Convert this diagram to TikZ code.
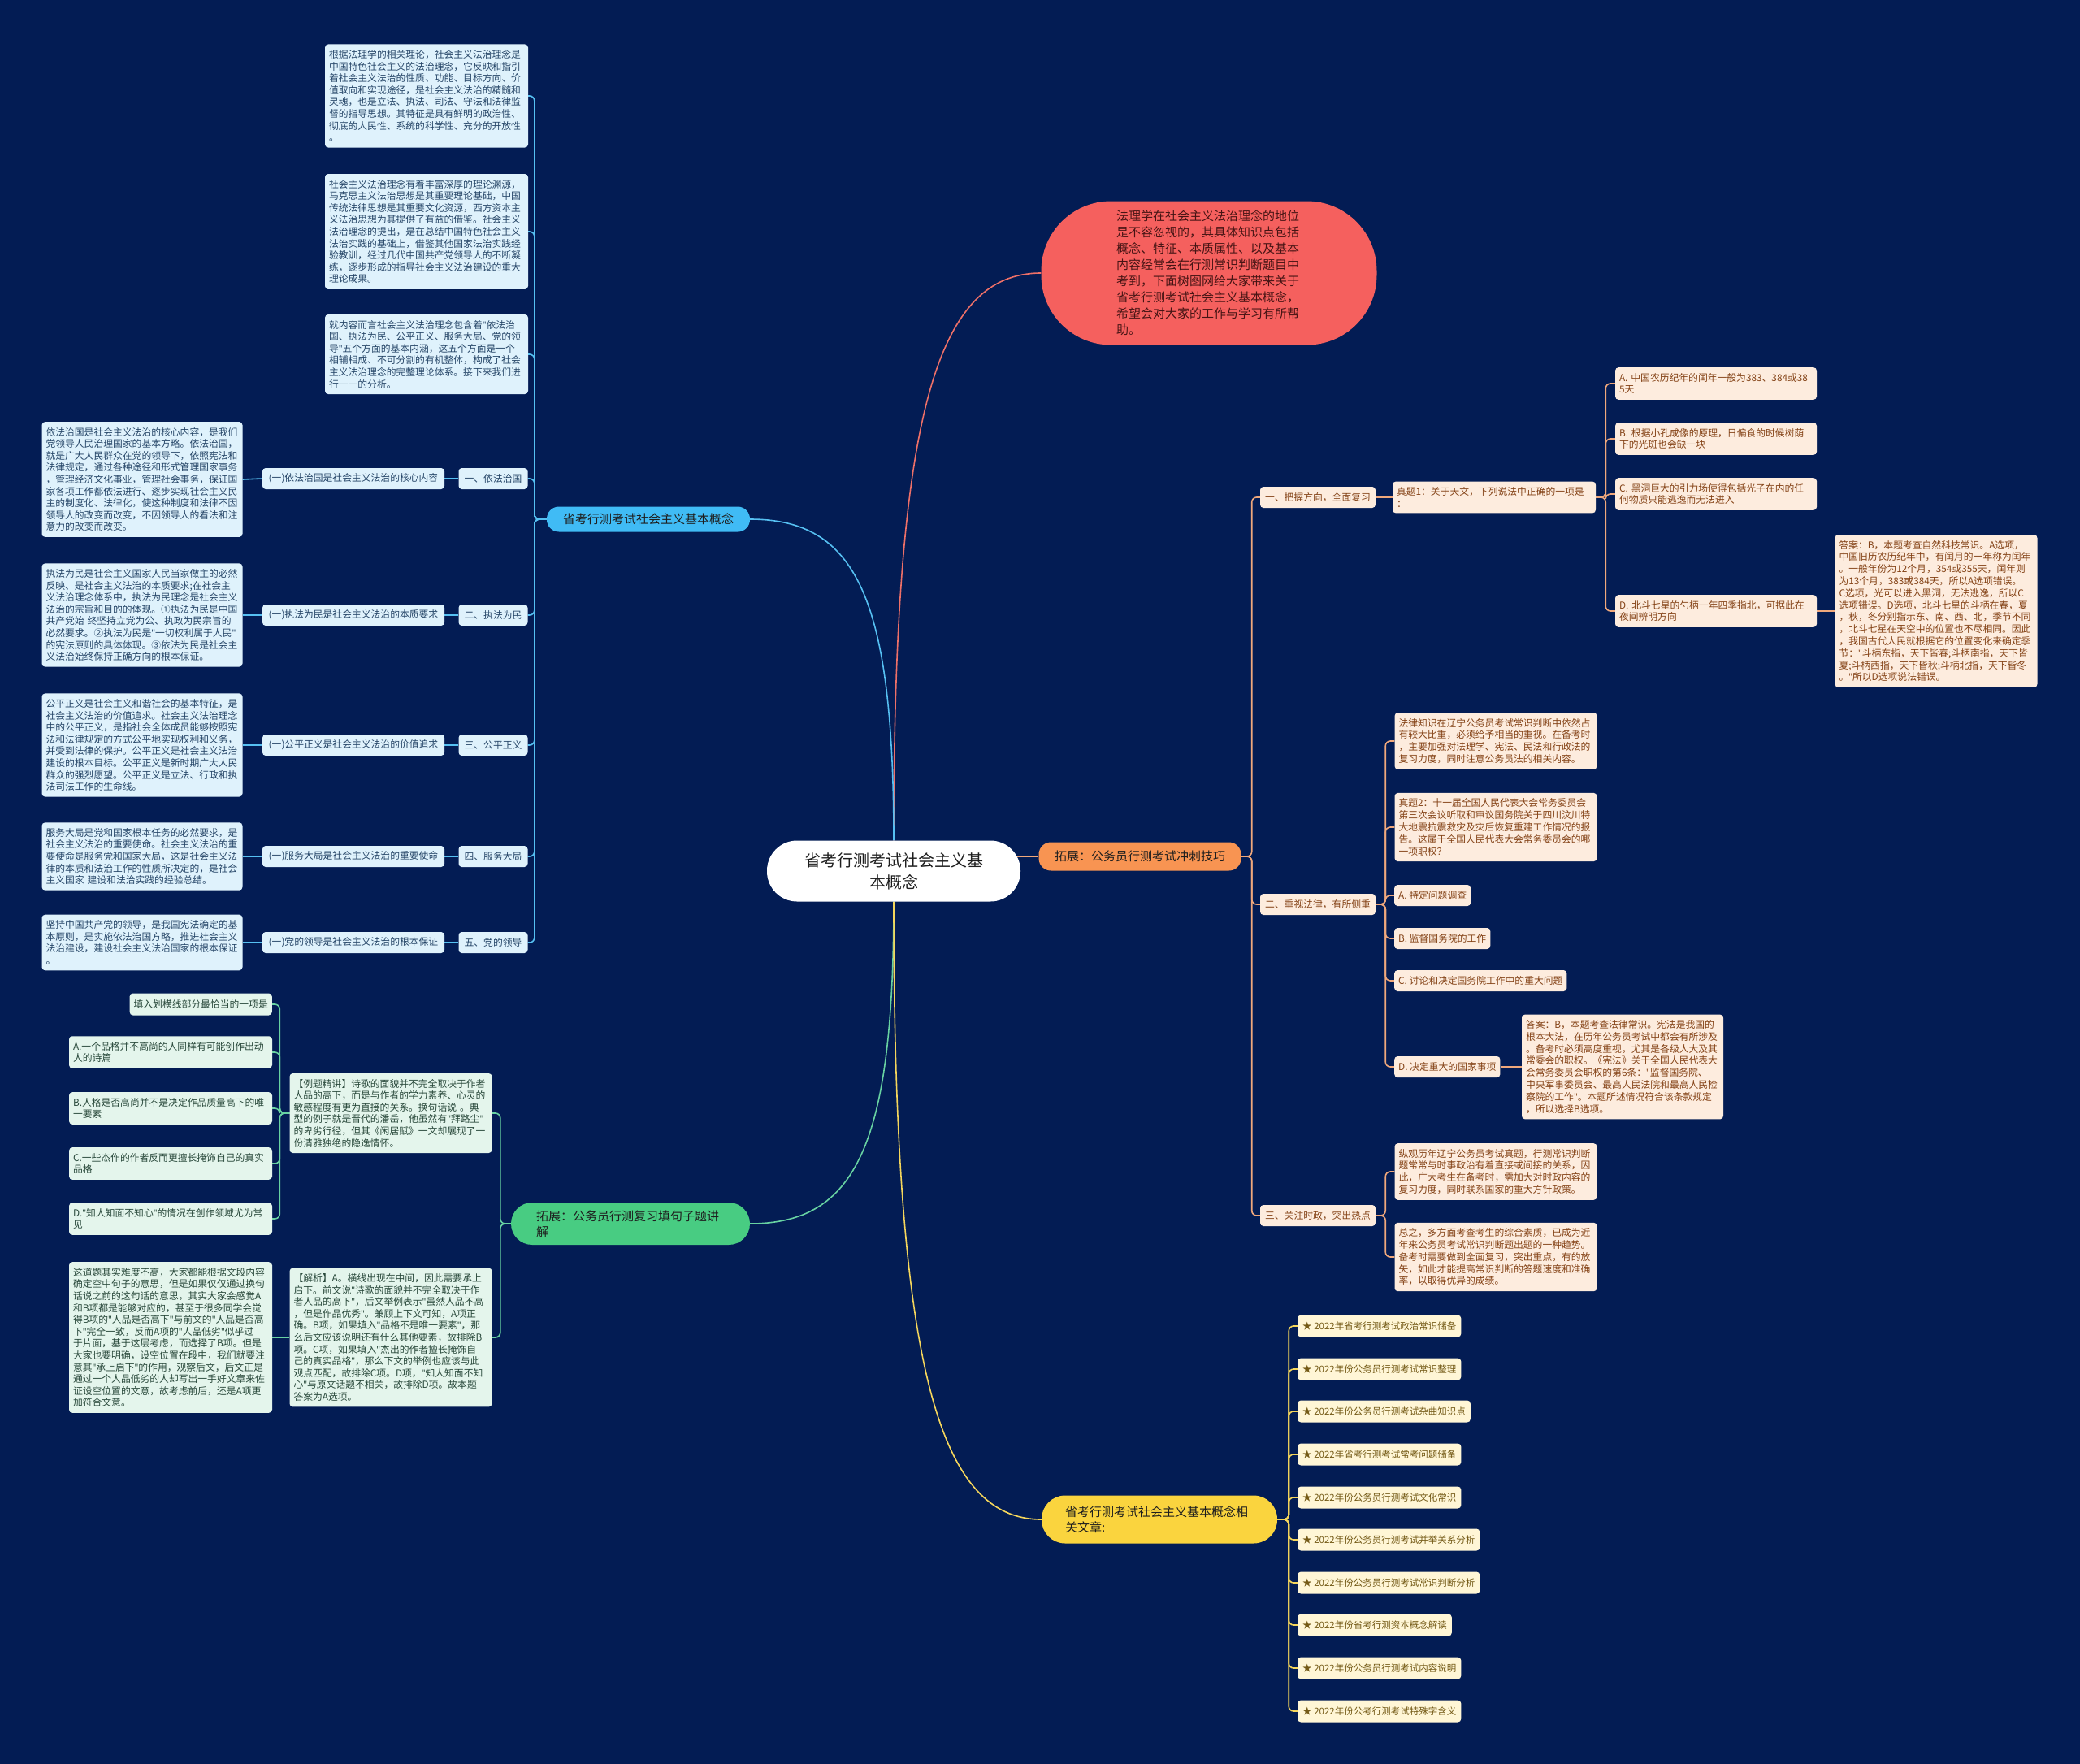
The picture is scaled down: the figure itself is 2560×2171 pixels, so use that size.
\documentclass[tikz,border=0pt]{standalone}
\usepackage{fontspec}
\setmainfont{Noto Sans CJK SC}
\newfontfamily\quotefont{Noto Sans}
\newcommand{\qm}{{\quotefont"}}
\usepackage{tikz}
\usetikzlibrary{backgrounds}
\definecolor{pageNavy}{RGB}{3,28,84}
\definecolor{rootText}{RGB}{30,30,30}
\definecolor{introFill}{RGB}{245,96,94}
\definecolor{introText}{RGB}{70,20,20}
\definecolor{introLine}{RGB}{238,112,104}
\definecolor{lawMain}{RGB}{64,187,245}
\definecolor{lawFill}{RGB}{223,242,252}
\definecolor{lawText}{RGB}{38,70,104}
\definecolor{lawLine}{RGB}{86,192,242}
\definecolor{sprintMain}{RGB}{248,148,82}
\definecolor{sprintFill}{RGB}{253,236,222}
\definecolor{sprintText}{RGB}{132,66,22}
\definecolor{sprintLine}{RGB}{240,168,124}
\definecolor{fillMain}{RGB}{72,204,130}
\definecolor{fillFill}{RGB}{228,245,236}
\definecolor{fillText}{RGB}{40,72,58}
\definecolor{fillLine}{RGB}{104,210,162}
\definecolor{linkMain}{RGB}{250,212,62}
\definecolor{linkFill}{RGB}{255,246,214}
\definecolor{linkText}{RGB}{116,90,22}
\definecolor{linkLine}{RGB}{245,214,92}

\begin{document}
\begin{tikzpicture}[x=1pt, y=-1pt,
    rootBox/.style={rectangle, rounded corners=37pt, fill=white, text=rootText, minimum width=312pt, minimum height=75pt, align=center, font=\fontsize{20}{27}\selectfont},
    topicBox/.style={rectangle, rounded corners=15pt, minimum height=33pt, inner xsep=10pt, text=rootText, font=\fontsize{15}{19}\selectfont},
    blueNote/.style={rectangle, rounded corners=4pt, fill=lawFill, text=lawText, align=left, inner xsep=5pt, inner ysep=7pt, font=\fontsize{11.8}{14.6}\selectfont},
    blueTag/.style={blueNote, inner ysep=3pt, minimum height=26pt},
    orangeNote/.style={rectangle, rounded corners=4pt, fill=sprintFill, text=sprintText, align=left, inner xsep=5pt, inner ysep=7pt, font=\fontsize{11.8}{14.8}\selectfont},
    orangeTag/.style={orangeNote, inner ysep=3pt, minimum height=26pt},
    greenNote/.style={rectangle, rounded corners=4pt, fill=fillFill, text=fillText, align=left, inner xsep=5pt, inner ysep=7pt, font=\fontsize{11.8}{14.6}\selectfont},
    goldItem/.style={rectangle, rounded corners=4pt, fill=linkFill, text=linkText, inner xsep=6pt, minimum height=27pt, anchor=west, font=\fontsize{11.5}{14}\selectfont},
    mainLink/.style={line width=1.6pt},
    twig/.style={line width=1.6pt, rounded corners=6pt}
]
\useasboundingbox (0,0) rectangle (2560,2171);

\node[rootBox] (root) at (1100,1072) {省考行测考试社会主义基\\本概念};

\node[rectangle, rounded corners=86pt, fill=introFill, text=introText, minimum width=413pt, minimum height=177pt, text width=228pt, align=left, font=\fontsize{15}{20}\selectfont] (introNote) at (1488,336) {法理学在社会主义法治理念的地位\\是不容忽视的，其具体知识点包括\\概念、特征、本质属性、以及基本\\内容经常会在行测常识判断题目中\\考到，下面树图网给大家带来关于\\省考行测考试社会主义基本概念，\\希望会对大家的工作与学习有所帮\\助。};

\node[topicBox, fill=lawMain, minimum width=250pt, minimum height=31pt] (lawBranch) at (798,639) {省考行测考试社会主义基本概念};
\node[topicBox, fill=sprintMain, minimum width=249pt, minimum height=35pt] (sprintBranch) at (1403,1054) {拓展：公务员行测考试冲刺技巧};
\node[topicBox, fill=fillMain, rounded corners=26pt, minimum width=294pt, minimum height=52pt, text width=232pt, align=left] (fillBranch) at (776,1506) {拓展：公务员行测复习填句子题讲\\解};
\node[topicBox, fill=linkMain, rounded corners=29pt, minimum width=290pt, minimum height=59pt, text width=232pt, align=left] (linkBranch) at (1427,1870) {省考行测考试社会主义基本概念相\\关文章:};

\node[blueNote, text width=240pt] (basisNote) at (525,118) {根据法理学的相关理论，社会主义法治理念是\\中国特色社会主义的法治理念，它反映和指引\\着社会主义法治的性质、功能、目标方向、价\\值取向和实现途径，是社会主义法治的精髓和\\灵魂，也是立法、执法、司法、守法和法律监\\督的指导思想。其特征是具有鲜明的政治性、\\彻底的人民性、系统的科学性、充分的开放性\\。};
\node[blueNote, text width=240pt] (sourceNote) at (525,285) {社会主义法治理念有着丰富深厚的理论渊源，\\马克思主义法治思想是其重要理论基础，中国\\传统法律思想是其重要文化资源，西方资本主\\义法治思想为其提供了有益的借鉴。社会主义\\法治理念的提出，是在总结中国特色社会主义\\法治实践的基础上，借鉴其他国家法治实践经\\验教训，经过几代中国共产党领导人的不断凝\\练，逐步形成的指导社会主义法治建设的重大\\理论成果。};
\node[blueNote, text width=240pt] (contentNote) at (525,436) {就内容而言社会主义法治理念包含着\qm{}依法治\\国、执法为民、公平正义、服务大局、党的领\\导\qm{}五个方面的基本内涵，这五个方面是一个\\相辅相成、不可分割的有机整体，构成了社会\\主义法治理念的完整理论体系。接下来我们进\\行一一的分析。};

\node[blueTag, minimum width=85pt] (ruleLaw) at (607,589) {一、依法治国};
\node[blueTag, minimum width=224pt] (ruleLawSub) at (435,589) {(一)依法治国是社会主义法治的核心内容};
\node[blueNote, text width=237pt] (ruleLawNote) at (175,590) {依法治国是社会主义法治的核心内容，是我们\\党领导人民治理国家的基本方略。依法治国，\\就是广大人民群众在党的领导下，依照宪法和\\法律规定，通过各种途径和形式管理国家事务\\，管理经济文化事业，管理社会事务，保证国\\家各项工作都依法进行、逐步实现社会主义民\\主的制度化、法律化，使这种制度和法律不因\\领导人的改变而改变，不因领导人的看法和注\\意力的改变而改变。};

\node[blueTag, minimum width=85pt] (peopleLaw) at (607,757) {二、执法为民};
\node[blueTag, minimum width=224pt] (peopleLawSub) at (435,757) {(一)执法为民是社会主义法治的本质要求};
\node[blueNote, text width=237pt] (peopleLawNote) at (175,757) {执法为民是社会主义国家人民当家做主的必然\\反映、是社会主义法治的本质要求;在社会主\\义法治理念体系中，执法为民理念是社会主义\\法治的宗旨和目的的体现。①执法为民是中国\\共产党始 终坚持立党为公、执政为民宗旨的\\必然要求。②执法为民是\qm{}一切权利属于人民\qm{}\\的宪法原则的具体体现。③依法为民是社会主\\义法治始终保持正确方向的根本保证。};

\node[blueTag, minimum width=85pt] (justice) at (607,917) {三、公平正义};
\node[blueTag, minimum width=224pt] (justiceSub) at (435,917) {(一)公平正义是社会主义法治的价值追求};
\node[blueNote, text width=237pt] (justiceNote) at (175,917) {公平正义是社会主义和谐社会的基本特征，是\\社会主义法治的价值追求。社会主义法治理念\\中的公平正义，是指社会全体成员能够按照宪\\法和法律规定的方式公平地实现权利和义务，\\并受到法律的保护。公平正义是社会主义法治\\建设的根本目标。公平正义是新时期广大人民\\群众的强烈愿望。公平正义是立法、行政和执\\法司法工作的生命线。};

\node[blueTag, minimum width=85pt] (service) at (607,1054) {四、服务大局};
\node[blueTag, minimum width=224pt] (serviceSub) at (435,1054) {(一)服务大局是社会主义法治的重要使命};
\node[blueNote, text width=237pt] (serviceNote) at (175,1054) {服务大局是党和国家根本任务的必然要求，是\\社会主义法治的重要使命。社会主义法治的重\\要使命是服务党和国家大局，这是社会主义法\\律的本质和法治工作的性质所决定的，是社会\\主义国家 建设和法治实践的经验总结。};

\node[blueTag, minimum width=85pt] (party) at (607,1160) {五、党的领导};
\node[blueTag, minimum width=224pt] (partySub) at (435,1160) {(一)党的领导是社会主义法治的根本保证};
\node[blueNote, text width=237pt] (partyNote) at (175,1160) {坚持中国共产党的领导，是我国宪法确定的基\\本原则，是实施依法治国方略，推进社会主义\\法治建设，建设社会主义法治国家的根本保证\\。};

\node[greenNote, text width=239pt] (fillSample) at (481,1370) {【例题精讲】诗歌的面貌并不完全取决于作者\\人品的高下，而是与作者的学力素养、心灵的\\敏感程度有更为直接的关系。换句话说 。典\\型的例子就是晋代的潘岳，他虽然有\qm{}拜路尘\qm{}\\的卑劣行径，但其《闲居赋》一文却展现了一\\份清雅独绝的隐逸情怀。};
\node[greenNote, text width=239pt] (fillAnalysis) at (481,1646) {【解析】A。横线出现在中间，因此需要承上\\启下。前文说\qm{}诗歌的面貌并不完全取决于作\\者人品的高下\qm{}，后文举例表示\qm{}虽然人品不高\\，但是作品优秀\qm{}。兼顾上下文可知，A项正\\确。B项，如果填入\qm{}品格不是唯一要素\qm{}，那\\么后文应该说明还有什么其他要素，故排除B\\项。C项，如果填入\qm{}杰出的作者擅长掩饰自\\己的真实品格\qm{}，那么下文的举例也应该与此\\观点匹配，故排除C项。D项，\qm{}知人知面不知\\心\qm{}与原文话题不相关，故排除D项。故本题\\答案为A选项。};
\node[greenNote, inner ysep=4pt, minimum height=27pt, anchor=east] (fillStem) at (335,1236) {填入划横线部分最恰当的一项是};
\node[greenNote, text width=240pt] (fillOptA) at (210,1295) {A.一个品格并不高尚的人同样有可能创作出动\\人的诗篇};
\node[greenNote, text width=240pt] (fillOptB) at (210,1364) {B.人格是否高尚并不是决定作品质量高下的唯\\一要素};
\node[greenNote, text width=240pt] (fillOptC) at (210,1432) {C.一些杰作的作者反而更擅长掩饰自己的真实\\品格};
\node[greenNote, text width=240pt] (fillOptD) at (210,1500) {D.\qm{}知人知面不知心\qm{}的情况在创作领域尤为常\\见};
\node[greenNote, text width=240pt] (fillReview) at (210,1646) {这道题其实难度不高，大家都能根据文段内容\\确定空中句子的意思，但是如果仅仅通过换句\\话说之前的这句话的意思，其实大家会感觉A\\和B项都是能够对应的，甚至于很多同学会觉\\得B项的\qm{}人品是否高下\qm{}与前文的\qm{}人品是否高\\下\qm{}完全一致，反而A项的\qm{}人品低劣\qm{}似乎过\\于片面，基于这层考虑，而选择了B项。但是\\大家也要明确，设空位置在段中，我们就要注\\意其\qm{}承上启下\qm{}的作用，观察后文，后文正是\\通过一个人品低劣的人却写出一手好文章来佐\\证设空位置的文意，故考虑前后，还是A项更\\加符合文意。};

\node[orangeTag, minimum width=142pt] (planStep) at (1622,612) {一、把握方向，全面复习};
\node[orangeTag, minimum width=142pt] (lawStep) at (1622,1113) {二、重视法律，有所侧重};
\node[orangeTag, minimum width=142pt] (newsStep) at (1622,1496) {三、关注时政，突出热点};

\node[orangeNote, text width=240pt] (quizOne) at (1839,612) {真题1：关于天文，下列说法中正确的一项是\\：};
\node[orangeNote, text width=238pt] (quizOneA) at (2112,472) {A. 中国农历纪年的闰年一般为383、384或38\\5天};
\node[orangeNote, text width=238pt] (quizOneB) at (2112,540) {B. 根据小孔成像的原理，日偏食的时候树荫\\下的光斑也会缺一块};
\node[orangeNote, text width=238pt] (quizOneC) at (2112,608) {C. 黑洞巨大的引力场使得包括光子在内的任\\何物质只能逃逸而无法进入};
\node[orangeNote, text width=238pt] (quizOneD) at (2112,752) {D. 北斗七星的勺柄一年四季指北，可据此在\\夜间辨明方向};
\node[orangeNote, text width=239pt] (quizOneKey) at (2383,752) {答案：B，本题考查自然科技常识。A选项，\\中国旧历农历纪年中，有闰月的一年称为闰年\\。一般年份为12个月，354或355天，闰年则\\为13个月，383或384天，所以A选项错误。\\C选项，光可以进入黑洞，无法逃逸，所以C\\选项错误。D选项，北斗七星的斗柄在春，夏\\，秋，冬分别指示东、南、西、北，季节不同\\，北斗七星在天空中的位置也不尽相同。因此\\，我国古代人民就根据它的位置变化来确定季\\节：\qm{}斗柄东指，天下皆春;斗柄南指，天下皆\\夏;斗柄西指，天下皆秋;斗柄北指，天下皆冬\\。\qm{}所以D选项说法错误。};

\node[orangeNote, text width=239pt] (lawNote) at (1841,912) {法律知识在辽宁公务员考试常识判断中依然占\\有较大比重，必须给予相当的重视。在备考时\\，主要加强对法理学、宪法、民法和行政法的\\复习力度，同时注意公务员法的相关内容。};
\node[orangeNote, text width=239pt] (quizTwo) at (1841,1018) {真题2：十一届全国人民代表大会常务委员会\\第三次会议听取和审议国务院关于四川汶川特\\大地震抗震救灾及灾后恢复重建工作情况的报\\告。这属于全国人民代表大会常务委员会的哪\\一项职权？};
\node[orangeTag, anchor=west] (quizTwoA) at (1716,1102) {A. 特定问题调查};
\node[orangeTag, anchor=west] (quizTwoB) at (1716,1155) {B. 监督国务院的工作};
\node[orangeTag, anchor=west] (quizTwoC) at (1716,1207) {C. 讨论和决定国务院工作中的重大问题};
\node[orangeTag, anchor=west] (quizTwoD) at (1716,1313) {D. 决定重大的国家事项};
\node[orangeNote, text width=238pt] (quizTwoKey) at (1997,1313) {答案：B，本题考查法律常识。宪法是我国的\\根本大法，在历年公务员考试中都会有所涉及\\。备考时必须高度重视，尤其是各级人大及其\\常委会的职权。《宪法》关于全国人民代表大\\会常务委员会职权的第6条：\qm{}监督国务院、\\中央军事委员会、最高人民法院和最高人民检\\察院的工作\qm{}。本题所述情况符合该条款规定\\，所以选择B选项。};

\node[orangeNote, text width=239pt] (newsNote) at (1841,1442) {纵观历年辽宁公务员考试真题，行测常识判断\\题常常与时事政治有着直接或间接的关系，因\\此，广大考生在备考时，需加大对时政内容的\\复习力度，同时联系国家的重大方针政策。};
\node[orangeNote, text width=239pt] (sumNote) at (1841,1547) {总之，多方面考查考生的综合素质，已成为近\\年来公务员考试常识判断题出题的一种趋势。\\备考时需要做到全面复习，突出重点，有的放\\矢，如此才能提高常识判断的答题速度和准确\\率，以取得优异的成绩。};

\node[goldItem] (linkOne) at (1597,1632) {★ 2022年省考行测考试政治常识储备};
\node[goldItem] (linkTwo) at (1597,1685) {★ 2022年份公务员行测考试常识整理};
\node[goldItem] (linkThree) at (1597,1737) {★ 2022年份公务员行测考试杂曲知识点};
\node[goldItem] (linkFour) at (1597,1790) {★ 2022年省考行测考试常考问题储备};
\node[goldItem] (linkFive) at (1597,1843) {★ 2022年份公务员行测考试文化常识};
\node[goldItem] (linkSix) at (1597,1895) {★ 2022年份公务员行测考试并举关系分析};
\node[goldItem] (linkSeven) at (1597,1948) {★ 2022年份公务员行测考试常识判断分析};
\node[goldItem] (linkEight) at (1597,2000) {★ 2022年份省考行测资本概念解读};
\node[goldItem] (linkNine) at (1597,2053) {★ 2022年份公务员行测考试内容说明};
\node[goldItem] (linkTen) at (1597,2106) {★ 2022年份公考行测考试特殊字含义};

\begin{scope}[on background layer]
\fill[pageNavy] (0,0) rectangle (2560,2171);

\draw[mainLink, introLine] (root.north) .. controls +(0,-520) and +(-130,0) .. (introNote.west);
\draw[mainLink, lawLine] (root.north) .. controls +(0,-300) and +(130,0) .. (lawBranch.east);
\draw[mainLink, sprintLine] (root.center |- sprintBranch.west) -- (sprintBranch.west);
\draw[mainLink, fillLine] (root.south) .. controls +(0,300) and +(130,0) .. (fillBranch.east);
\draw[mainLink, linkLine] (root.south) .. controls +(0,560) and +(-130,0) .. (linkBranch.west);

\draw[twig, lawLine] (lawBranch.west) -- ++(-15,0) |- (basisNote.east);
\draw[twig, lawLine] (lawBranch.west) -- ++(-15,0) |- (sourceNote.east);
\draw[twig, lawLine] (lawBranch.west) -- ++(-15,0) |- (contentNote.east);
\draw[twig, lawLine] (lawBranch.west) -- ++(-15,0) |- (ruleLaw.east);
\draw[twig, lawLine] (lawBranch.west) -- ++(-15,0) |- (peopleLaw.east);
\draw[twig, lawLine] (lawBranch.west) -- ++(-15,0) |- (justice.east);
\draw[twig, lawLine] (lawBranch.west) -- ++(-15,0) |- (service.east);
\draw[twig, lawLine] (lawBranch.west) -- ++(-15,0) |- (party.east);
\draw[twig, lawLine] (ruleLaw.west) -- (ruleLawSub.east);
\draw[twig, lawLine] (ruleLawSub.west) -- (ruleLawNote.east);
\draw[twig, lawLine] (peopleLaw.west) -- (peopleLawSub.east);
\draw[twig, lawLine] (peopleLawSub.west) -- (peopleLawNote.east);
\draw[twig, lawLine] (justice.west) -- (justiceSub.east);
\draw[twig, lawLine] (justiceSub.west) -- (justiceNote.east);
\draw[twig, lawLine] (service.west) -- (serviceSub.east);
\draw[twig, lawLine] (serviceSub.west) -- (serviceNote.east);
\draw[twig, lawLine] (party.west) -- (partySub.east);
\draw[twig, lawLine] (partySub.west) -- (partyNote.east);

\draw[twig, fillLine] (fillBranch.west) -- ++(-13,0) |- (fillSample.east);
\draw[twig, fillLine] (fillBranch.west) -- ++(-13,0) |- (fillAnalysis.east);
\draw[twig, fillLine] (fillSample.west) -- ++(-12,0) |- (fillStem.east);
\draw[twig, fillLine] (fillSample.west) -- ++(-12,0) |- (fillOptA.east);
\draw[twig, fillLine] (fillSample.west) -- ++(-12,0) |- (fillOptB.east);
\draw[twig, fillLine] (fillSample.west) -- ++(-12,0) |- (fillOptC.east);
\draw[twig, fillLine] (fillSample.west) -- ++(-12,0) |- (fillOptD.east);
\draw[twig, fillLine] (fillAnalysis.west) -- (fillReview.east);

\draw[twig, sprintLine] (sprintBranch.east) -- ++(13,0) |- (planStep.west);
\draw[twig, sprintLine] (sprintBranch.east) -- ++(13,0) |- (lawStep.west);
\draw[twig, sprintLine] (sprintBranch.east) -- ++(13,0) |- (newsStep.west);
\draw[twig, sprintLine] (planStep.east) -- (quizOne.west);
\draw[twig, sprintLine] (quizOne.east) -- ++(12,0) |- (quizOneA.west);
\draw[twig, sprintLine] (quizOne.east) -- ++(12,0) |- (quizOneB.west);
\draw[twig, sprintLine] (quizOne.east) -- ++(12,0) |- (quizOneC.west);
\draw[twig, sprintLine] (quizOne.east) -- ++(12,0) |- (quizOneD.west);
\draw[twig, sprintLine] (quizOneD.east) -- (quizOneKey.west);
\draw[twig, sprintLine] (lawStep.east) -- ++(12,0) |- (lawNote.west);
\draw[twig, sprintLine] (lawStep.east) -- ++(12,0) |- (quizTwo.west);
\draw[twig, sprintLine] (lawStep.east) -- ++(12,0) |- (quizTwoA.west);
\draw[twig, sprintLine] (lawStep.east) -- ++(12,0) |- (quizTwoB.west);
\draw[twig, sprintLine] (lawStep.east) -- ++(12,0) |- (quizTwoC.west);
\draw[twig, sprintLine] (lawStep.east) -- ++(12,0) |- (quizTwoD.west);
\draw[twig, sprintLine] (quizTwoD.east) -- (quizTwoKey.west);
\draw[twig, sprintLine] (newsStep.east) -- ++(12,0) |- (newsNote.west);
\draw[twig, sprintLine] (newsStep.east) -- ++(12,0) |- (sumNote.west);

\draw[twig, linkLine] (linkBranch.east) -- ++(14,0) |- (linkOne.west);
\draw[twig, linkLine] (linkBranch.east) -- ++(14,0) |- (linkTwo.west);
\draw[twig, linkLine] (linkBranch.east) -- ++(14,0) |- (linkThree.west);
\draw[twig, linkLine] (linkBranch.east) -- ++(14,0) |- (linkFour.west);
\draw[twig, linkLine] (linkBranch.east) -- ++(14,0) |- (linkFive.west);
\draw[twig, linkLine] (linkBranch.east) -- ++(14,0) |- (linkSix.west);
\draw[twig, linkLine] (linkBranch.east) -- ++(14,0) |- (linkSeven.west);
\draw[twig, linkLine] (linkBranch.east) -- ++(14,0) |- (linkEight.west);
\draw[twig, linkLine] (linkBranch.east) -- ++(14,0) |- (linkNine.west);
\draw[twig, linkLine] (linkBranch.east) -- ++(14,0) |- (linkTen.west);
\end{scope}
\end{tikzpicture}
\end{document}
